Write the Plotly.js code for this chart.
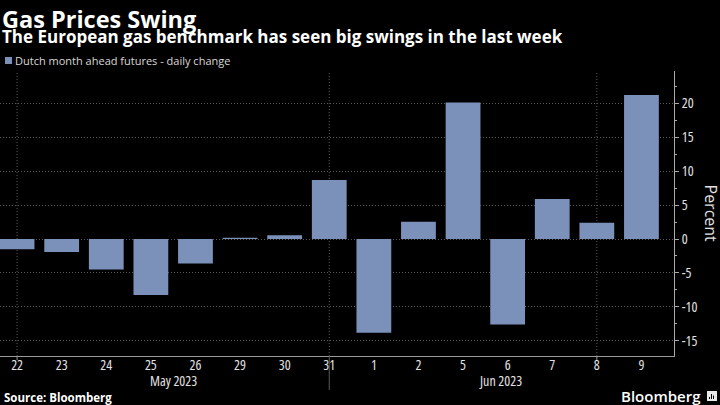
<!DOCTYPE html>
<html><head><meta charset="utf-8">
<script src="https://cdn.plot.ly/plotly-3.0.1.min.js"></script>
<style>
html,body{margin:0;padding:0;background:#000;}
text[style*="font-size: 14px"]{font-stretch:82%;}
text[style*="font-size: 16px"]{font-stretch:88%;}
</style>
</head><body>
<div id="chart" style="width:720px;height:405px;"></div>
<script>
const days = ["22","23","24","25","26","29","30","31","1","2","5","6","7","8","9"];
const changes = [-1.5,-1.9,-4.5,-8.25,-3.6,0.2,0.55,8.7,-13.8,2.55,20.1,-12.6,5.9,2.4,21.2];
const months = ["May 2023","Jun 2023"];
const seriesName = "Dutch month ahead futures - daily change";
const yTicks = [-15,-10,-5,0,5,10,15,20];

const idx = days.map((d,i)=>i);
const OS = "Open Sans, sans-serif";
const barColor = '#7b91ba';
const txt = '#e2e2e2';

// plot area in pixels: left 0, right 674, top 71, bottom 356
const PT=71, PB=356, PR=674, PH=PB-PT;
const py = p => (PB-p)/PH;   // pixel y -> paper y
const px = p => p/PR;        // pixel x -> paper x

const trace = {
  type:'bar', x: idx, y: changes, name: seriesName,
  marker:{color:barColor}, width:0.78, showlegend:false
};

const shapes = [];
[0,7,13].forEach(i=>shapes.push({type:'line',xref:'x',yref:'paper',x0:i,x1:i,y0:0,y1:1,
  line:{color:'#5a5a5a',width:1,dash:'1px,2px'},layer:'below'}));
[0,13].forEach(i=>shapes.push({type:'line',xref:'x',yref:'paper',x0:i,x1:i,y0:0,y1:py(360),
  line:{color:'#999',width:1}}));
shapes.push({type:'line',xref:'x',yref:'paper',x0:7,x1:7,y0:0,y1:py(390),line:{color:'#5a5a5a',width:1}});
// legend swatch
shapes.push({type:'rect',xref:'paper',yref:'paper',x0:px(5),x1:px(12),y0:py(57),y1:py(64),
  fillcolor:barColor,line:{width:0}});
// logo glyph
shapes.push({type:'rect',xref:'paper',yref:'paper',x0:px(707),x1:px(717),y0:py(391),y1:py(401),
  fillcolor:'#e8e8e8',line:{width:0}});
[[709.5,397],[711.5,394],[713.5,395.5]].forEach(([x,y])=>shapes.push({type:'line',xref:'paper',yref:'paper',
  x0:px(x),x1:px(x),y0:py(399),y1:py(y),line:{color:'#000',width:1}}));

const layout = {
  width:720,height:405,
  paper_bgcolor:'#000',plot_bgcolor:'#000',
  margin:{l:0,r:720-PR,t:PT,b:405-PB},
  font:{family:OS,color:txt,size:14},
  showlegend:false,
  xaxis:{range:[-0.383,14.73],tickvals:idx,ticktext:days,showgrid:false,zeroline:false,
    ticks:'',showline:true,linecolor:'#999',linewidth:1,ticklabelstandoff:-4,
    tickfont:{family:OS,size:14,color:txt},fixedrange:true},
  yaxis:{side:'right',range:[-17.23,24.74],tickvals:yTicks,ticktext:yTicks.map(v=>v<0?'-'+Math.abs(v):String(v)),
    showgrid:true,gridcolor:'#5a5a5a',griddash:'1px,2px',gridwidth:1,zeroline:false,
    showline:true,linecolor:'#aaa',linewidth:1,ticks:'outside',ticklen:4,tickcolor:'#aaa',
    minor:{dtick:2.5,ticks:'outside',ticklen:2,tickcolor:'#aaa',showgrid:false},
    tickfont:{family:OS,size:14,color:txt}},
  shapes:shapes,
  annotations:[
    {text:'<b>Gas Prices Swing</b>',xref:'paper',yref:'paper',x:px(0),y:py(18.5),xanchor:'left',yanchor:'middle',
     showarrow:false,font:{family:OS,size:23.5,color:'#fff'}},
    {text:'<b>The European gas benchmark has seen big swings in the last week</b>',xref:'paper',yref:'paper',x:px(0),y:py(36.5),xanchor:'left',yanchor:'middle',
     showarrow:false,font:{family:OS,size:17,color:'#fff'}},
    {text:seriesName,xref:'paper',yref:'paper',x:px(13),y:py(60.5),xanchor:'left',yanchor:'middle',
     showarrow:false,font:{family:OS,size:11,color:'#d8d8d8'}},
    {text:months[0],xref:'x',yref:'paper',x:3.5,y:py(380.5),yanchor:'middle',showarrow:false,font:{family:OS,size:14,color:txt}},
    {text:months[1],xref:'x',yref:'paper',x:10.85,y:py(380.5),yanchor:'middle',showarrow:false,font:{family:OS,size:14,color:txt}},
    {text:'<b>Source: Bloomberg</b>',xref:'paper',yref:'paper',x:px(2),y:py(397),xanchor:'left',yanchor:'middle',showarrow:false,font:{family:OS,size:11.5,color:'#fff'}},
    {text:'Bloomberg',xref:'paper',yref:'paper',x:px(703),y:py(395.5),xanchor:'right',yanchor:'middle',showarrow:false,font:{family:OS,size:15,weight:600,color:'#fff'}},
    {text:'Percent',xref:'paper',yref:'paper',x:px(710.5),y:py(214),xanchor:'center',yanchor:'middle',textangle:90,showarrow:false,font:{family:OS,size:16,color:txt}}
  ]
};

Plotly.newPlot('chart',[trace],layout,{displayModeBar:false,staticPlot:true});
</script>
</body></html>
